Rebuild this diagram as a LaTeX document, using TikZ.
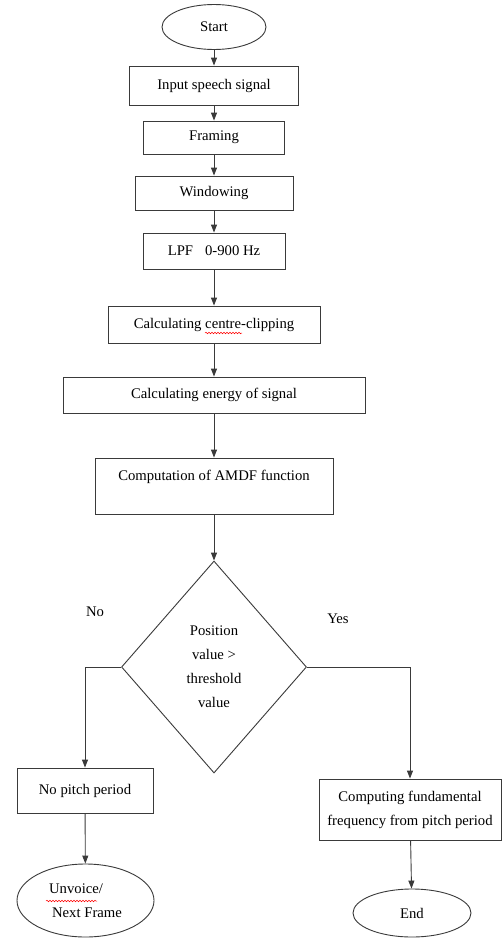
\documentclass[tikz,border=0pt]{standalone}
\usepackage{fontspec}
\setmainfont{Liberation Serif}
\usetikzlibrary{arrows.meta,shapes.geometric,decorations.pathmorphing}
\definecolor{lc}{HTML}{3A3A3A}
\tikzset{
  box/.style={draw=lc, line width=0.9pt, rectangle, inner sep=0pt, align=center},
  term/.style={draw=lc, line width=0.9pt, ellipse, inner sep=0pt, align=left},
  dec/.style={draw=lc, line width=0.9pt, diamond, inner sep=0pt, align=center},
  arr/.style={draw=lc, line width=0.9pt, -{Triangle[length=8pt,width=6pt]}},
  lbl/.style={inner sep=0pt},
  squig/.style={draw=red, line width=0.5pt, decorate, decoration={snake, amplitude=0.8pt, segment length=3pt}}
}
\begin{document}
\begin{tikzpicture}[x=1pt,y=-1pt,font=\fontsize{14.7}{24}\selectfont]
\useasboundingbox[fill=white] (0,0) rectangle (502,938);
\node[term, minimum width=104pt, minimum height=45pt] (start) at (214,27) {Start};
\node[box, minimum width=169pt, minimum height=39pt] (input) at (214,85.5) {Input speech signal};
\node[box, minimum width=141pt, minimum height=33pt] (framing) at (214,137.5) {Framing};
\node[box, minimum width=158pt, minimum height=34pt] (window) at (214,193) {Windowing};
\node[box, minimum width=142pt, minimum height=36pt] (lpf) at (214,251) {LPF\hspace{12pt}0-900 Hz};
\node[box, minimum width=212pt, minimum height=37pt] (clip) at (214,324.5) {Calculating centre-clipping};
\node[box, minimum width=302pt, minimum height=36pt] (energy) at (214,395) {Calculating energy of signal};
\node[box, minimum width=238pt, minimum height=56pt, text depth=22pt] (amdf) at (214,486) {Computation of AMDF function};
\node[dec, minimum width=185pt, minimum height=212pt] (dec) at (214,667) {Position\\value >\\threshold\\value};
\node[box, minimum width=136pt, minimum height=45pt] (nopitch) at (85,790.5) {No pitch period};
\node[term, minimum width=137pt, minimum height=73pt] (unvoice) at (85.5,900.5) {Unvoice/\\\hspace{3pt}Next Frame};
\node[box, minimum width=182pt, minimum height=61pt] (comp) at (410,809.5) {Computing fundamental\\frequency from pitch period};
\node[term, minimum width=118pt, minimum height=48pt] (end) at (412,913) {End};
\node[lbl] (no) at (95,612) {No};
\node[lbl] (yes) at (338,619) {Yes};
\draw[arr] (start) -- (input);
\draw[arr] (input) -- (framing);
\draw[arr] (framing) -- (window);
\draw[arr] (window) -- (lpf);
\draw[arr] (lpf) -- (clip);
\draw[arr] (clip) -- (energy);
\draw[arr] (energy) -- (amdf);
\draw[arr] (amdf) -- (dec);
\draw[arr] (dec.west) -| (nopitch.north);
\draw[arr] (dec.east) -| (comp.north);
\draw[arr] (nopitch) -- (unvoice);
\draw[arr] (comp) -- (end);
\draw[squig] (205,333) -- (242,333);
\draw[squig] (46,901) -- (97,901);
\end{tikzpicture}
\end{document}
